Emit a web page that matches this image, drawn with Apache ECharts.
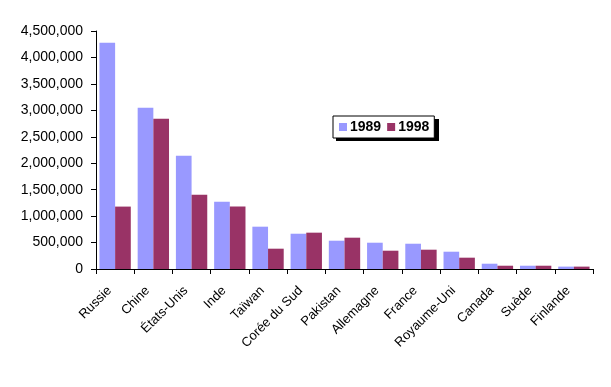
<!DOCTYPE html>
<html><head><meta charset="utf-8">
<script src="https://cdn.jsdelivr.net/npm/echarts@6/dist/echarts.min.js"></script>
<style>html,body{margin:0;padding:0;background:#fff}#c{width:611px;height:387px}</style>
</head><body><div id="c"></div>
<script>
const categories = ['Russie','Chine','États-Unis','Inde','Taïwan','Corée du Sud','Pakistan','Allemagne','France','Royaume-Uni','Canada','Suède','Finlande'];
const values1989 = [4280000,3050000,2140000,1270000,800000,667000,535000,497000,478000,327000,100000,62000,45000];
const values1998 = [1180000,2840000,1405000,1180000,384000,687000,592000,346000,365000,214000,62000,62000,45000];
const yTicks = [0,500000,1000000,1500000,2000000,2500000,3000000,3500000,4000000,4500000];

const chart = echarts.init(document.getElementById('c'), null, {renderer:'canvas'});
const font = 'Arial, "Liberation Sans", sans-serif';
chart.setOption({
  animation:false,
  textStyle:{fontFamily:font},
  grid:{left:96,right:18,top:31,bottom:118,containLabel:false},
  graphic:[{type:'rect',shape:{x:336,y:119,width:103,height:22},style:{fill:'#000'},z:0,zlevel:0}],
  legend:{
    data:['1989','1998'],
    left:333, top:116,
    orient:'horizontal',
    itemWidth:8, itemHeight:8, itemGap:6,
    padding:[4,5,4,6],
    borderColor:'#000', borderWidth:1, backgroundColor:'#fff',
    textStyle:{fontFamily:font,fontSize:14,fontWeight:'bold',color:'#000',padding:[0,0,0,-2]},
    icon:'rect', z:10
  },
  xAxis:{
    type:'category', data:categories,
    axisLine:{lineStyle:{color:'#000',width:1}},
    axisTick:{show:true,alignWithLabel:false,length:5,lineStyle:{color:'#000'}},
    axisLabel:{rotate:45,interval:0,fontSize:13,color:'#000',margin:14,padding:[0,8,0,0],fontFamily:font}
  },
  yAxis:{
    type:'value', min:0, max:4500000, interval:500000,
    axisLine:{show:true,lineStyle:{color:'#000',width:1}},
    axisTick:{show:true,length:5,lineStyle:{color:'#000'}},
    splitLine:{show:false},
    axisLabel:{fontSize:14,color:'#000',margin:13,fontFamily:font,
      formatter:v=>v.toLocaleString('en-US')}
  },
  series:[
    {name:'1989',type:'bar',data:values1989,itemStyle:{color:'#9999FF'},barGap:'0%',barCategoryGap:'18%'},
    {name:'1998',type:'bar',data:values1998,itemStyle:{color:'#993366'},barGap:'0%',barCategoryGap:'18%'}
  ]
});
</script></body></html>
